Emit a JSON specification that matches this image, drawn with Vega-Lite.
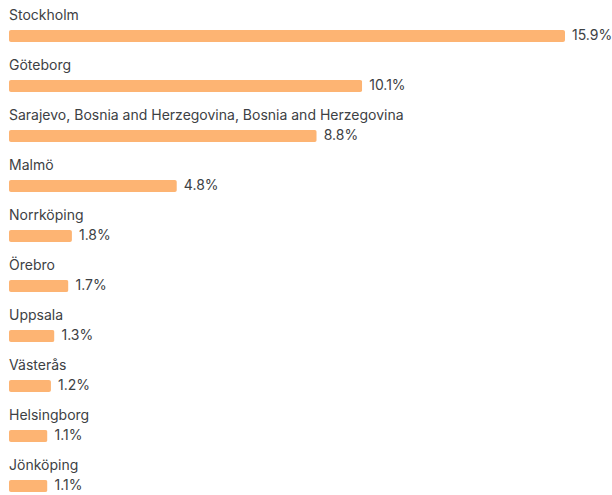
{
  "$schema": "https://vega.github.io/schema/vega-lite/v6.json",
  "width": 556,
  "height": 495,
  "autosize": {"type": "none"},
  "padding": {"left": 9, "top": 0, "right": 47, "bottom": 0},
  "background": "white",
  "config": {"view": {"stroke": null}, "text": {"font": "Inter", "fontSize": 14}},
  "data": {
    "values": [
      {"city": "Stockholm", "value": 15.9, "label": "15.9%"},
      {"city": "Göteborg", "value": 10.1, "label": "10.1%"},
      {"city": "Sarajevo, Bosnia and Herzegovina, Bosnia and Herzegovina", "value": 8.8, "label": "8.8%"},
      {"city": "Malmö", "value": 4.8, "label": "4.8%"},
      {"city": "Norrköping", "value": 1.8, "label": "1.8%"},
      {"city": "Örebro", "value": 1.7, "label": "1.7%"},
      {"city": "Uppsala", "value": 1.3, "label": "1.3%"},
      {"city": "Västerås", "value": 1.2, "label": "1.2%"},
      {"city": "Helsingborg", "value": 1.1, "label": "1.1%"},
      {"city": "Jönköping", "value": 1.1, "label": "1.1%"}
    ]
  },
  "encoding": {
    "y": {"field": "city", "type": "nominal", "sort": null, "axis": null,
          "scale": {"range": [11, 511], "paddingInner": 0, "paddingOuter": 0}}
  },
  "layer": [
    {
      "mark": {"type": "bar", "height": 12, "color": "#fdb473", "cornerRadius": 2},
      "encoding": {
        "x": {"field": "value", "type": "quantitative", "axis": null, "scale": {"domain": [0, 15.9], "nice": false, "zero": true}}
      }
    },
    {
      "mark": {"type": "text", "align": "left", "baseline": "middle", "dx": 7, "color": "#3d4144"},
      "encoding": {
        "x": {"field": "value", "type": "quantitative"},
        "text": {"field": "label"}
      }
    },
    {
      "mark": {"type": "text", "align": "left", "baseline": "middle", "yOffset": -20, "color": "#3d4144"},
      "encoding": {
        "x": {"datum": 0, "type": "quantitative"},
        "text": {"field": "city"}
      }
    }
  ]
}
